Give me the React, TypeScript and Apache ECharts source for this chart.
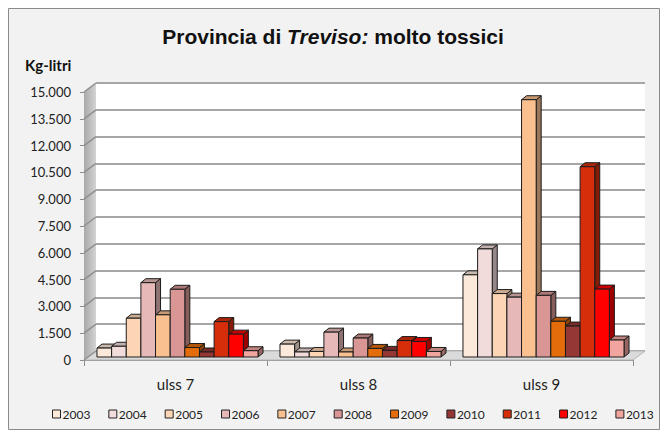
import React, { useEffect, useRef } from "react";
import * as echarts from "echarts";

const categories = ["ulss 7", "ulss 8", "ulss 9"];
const years = ["2003", "2004", "2005", "2006", "2007", "2008", "2009", "2010", "2011", "2012", "2013"];
const colors = ["#FDE9D9", "#F2DCDB", "#FCD5B4", "#E6B9B8", "#FAC090", "#D99694", "#E46C0A", "#953735", "#D62E0A", "#FF0000", "#F2A59E"];
// values per ULSS, one per year 2003..2013
const ulss7 = [500, 600, 2170, 4160, 2360, 3790, 530, 280, 1980, 1280, 350];
const ulss8 = [720, 280, 310, 1390, 280, 1060, 480, 370, 920, 870, 310];
const ulss9 = [4600, 6050, 3550, 3350, 14400, 3450, 2000, 1730, 10650, 3800, 950];
const yMin = 0;
const yMax = 15000;
const yStep = 1500;

const FONT = "Lato, 'Noto Sans', sans-serif";
const TITLE_FONT = "'Liberation Sans', Arial, sans-serif";
const DX = 5;
const DY = 4;
const WALL_DX = 12;
const WALL_DY = 9;

function shade(hex: string, f: number): string {
  const n = parseInt(hex.slice(1), 16);
  const r = Math.round(((n >> 16) & 255) * f);
  const g = Math.round(((n >> 8) & 255) * f);
  const b = Math.round((n & 255) * f);
  return `rgb(${r},${g},${b})`;
}

function fmt(v: number): string {
  return String(v).replace(/\B(?=(\d{3})+(?!\d))/g, ".");
}

export default function App() {
  const ref = useRef<HTMLDivElement>(null);
  useEffect(() => {
    document.body.style.margin = "0";
    if (!ref.current) return;
    const chart = echarts.init(ref.current, undefined, { renderer: "svg" });
    const groups = [ulss7, ulss8, ulss9];
    const stroke = "#1c1c1c";
    const series = years.map((y, si) => ({
      type: "custom",
      name: y,
      xAxisIndex: 0,
      yAxisIndex: 0,
      z: 3,
      itemStyle: { color: colors[si] },
      data: categories.map((_, ci) => [ci, groups[ci][si]]),
      renderItem: (params: any, api: any) => {
        const ci = api.value(0);
        const v = api.value(1);
        const base = api.coord([ci, 0]);
        const top = api.coord([ci, v]);
        const band = api.size([1, 0])[0];
        const groupW = band * 0.88;
        const w = groupW / years.length;
        const x = base[0] - groupW / 2 + si * w + 2;
        const yb = base[1] - 3;
        const yt = top[1] - 3;
        const c = colors[si];
        return {
          type: "group",
          children: [
            {
              type: "polygon",
              shape: { points: [[x + w, yt], [x + w + DX, yt - DY], [x + w + DX, yb - DY], [x + w, yb]] },
              style: { fill: shade(c, 0.62), stroke, lineWidth: 1 },
            },
            {
              type: "polygon",
              shape: { points: [[x, yt], [x + DX, yt - DY], [x + w + DX, yt - DY], [x + w, yt]] },
              style: { fill: shade(c, 0.8), stroke, lineWidth: 1 },
            },
            {
              type: "rect",
              shape: { x, y: yt, width: w, height: yb - yt },
              style: { fill: c, stroke, lineWidth: 1 },
            },
          ],
        };
      },
    }));

    const option: any = {
      animation: false,
      backgroundColor: "#ffffff",
      title: {
        left: "center",
        top: 21,
        text: "{a|Provincia di }{b|Treviso:}{a| molto tossici}",
        textStyle: {
          rich: {
            a: { fontFamily: TITLE_FONT, fontSize: 21, fontWeight: "bold", color: "#111" },
            b: { fontFamily: TITLE_FONT, fontSize: 21, fontWeight: "bold", fontStyle: "italic", color: "#111" },
          },
        },
      },
      legend: {
        data: years,
        left: 47,
        top: 403,
        icon: "rect",
        itemWidth: 8,
        itemHeight: 8,
        itemGap: 18,
        itemStyle: { borderColor: "#222", borderWidth: 1 },
        textStyle: { fontFamily: FONT, fontSize: 12, color: "#222", padding: [0, 0, 0, -3] },
      },
      grid: [
        { left: 84, right: 33, top: 92, bottom: 74 },
        { left: 96, right: 21, top: 83, bottom: 83, show: true, backgroundColor: "#ffffff", borderWidth: 0 },
      ],
      xAxis: [
        {
          type: "category",
          gridIndex: 0,
          data: categories,
          axisLine: { lineStyle: { color: "#8c8c8c", width: 1 } },
          axisTick: { show: true, length: 6, lineStyle: { color: "#8c8c8c" } },
          axisLabel: { fontFamily: FONT, fontSize: 15, color: "#222", margin: 16 },
          splitLine: { show: false },
        },
        { type: "category", gridIndex: 1, data: categories, show: false },
      ],
      yAxis: [
        {
          type: "value",
          gridIndex: 0,
          min: yMin,
          max: yMax,
          interval: yStep,
          axisLine: { show: true, lineStyle: { color: "#8c8c8c" } },
          axisTick: { show: true, length: 4, lineStyle: { color: "#8c8c8c" } },
          axisLabel: { fontFamily: FONT, fontSize: 13, color: "#222", margin: 13, formatter: (v: number) => fmt(v) },
          splitLine: { show: false },
        },
        {
          type: "value",
          gridIndex: 1,
          min: yMin,
          max: yMax,
          interval: yStep,
          axisLine: { show: false },
          axisTick: { show: false },
          axisLabel: { show: false },
          splitLine: { show: true, lineStyle: { color: "#A6A6A6", width: 2 } },
        },
      ],
      series,
    };
    chart.setOption(option);

    const y0 = chart.convertToPixel({ yAxisIndex: 0 }, yMin) as number;
    const yTop = chart.convertToPixel({ yAxisIndex: 0 }, yMax) as number;
    const frontLeft = 84;
    const frontRight = 633;
    const ticks: number[] = [];
    for (let v = yMin; v <= yMax; v += yStep) ticks.push(v);
    const graphics: any[] = [
      {
        type: "rect",
        z: -10,
        shape: { x: 8.5, y: 8.5, width: 651, height: 421 },
        style: { fill: "#F2F2F2", stroke: "#8a8a8a", lineWidth: 1 },
      },
      {
        type: "polygon",
        z: 1,
        shape: {
          points: [
            [frontLeft, y0],
            [frontLeft, yTop],
            [frontLeft + WALL_DX, yTop - WALL_DY],
            [frontLeft + WALL_DX, y0 - WALL_DY],
          ],
        },
        style: {
          fill: new echarts.graphic.LinearGradient(0, 0, 1, 0, [
            { offset: 0, color: "#A8A8A8" },
            { offset: 1, color: "#D4D4D4" },
          ]),
        },
      },
      {
        type: "polygon",
        z: 1,
        shape: {
          points: [
            [frontLeft, y0],
            [frontRight, y0],
            [frontRight + WALL_DX, y0 - WALL_DY],
            [frontLeft + WALL_DX, y0 - WALL_DY],
          ],
        },
        style: { fill: "#DADADA", stroke: "#B5B5B5", lineWidth: 1 },
      },
      ...ticks.map((v) => {
        const y = chart.convertToPixel({ yAxisIndex: 0 }, v) as number;
        return {
          type: "line",
          z: 1,
          shape: { x1: frontLeft, y1: y, x2: frontLeft + WALL_DX, y2: y - WALL_DY },
          style: { stroke: "#8f8f8f", lineWidth: 1.5 },
        };
      }),
      {
        type: "text",
        left: 25,
        top: 57,
        style: { text: "Kg-litri", fontFamily: FONT, fontSize: 15, fontWeight: "bold", fill: "#111" },
      },
    ];
    chart.setOption({ graphic: graphics });
    return () => chart.dispose();
  }, []);
  return <div ref={ref} style={{ width: 666, height: 434 }} />;
}
